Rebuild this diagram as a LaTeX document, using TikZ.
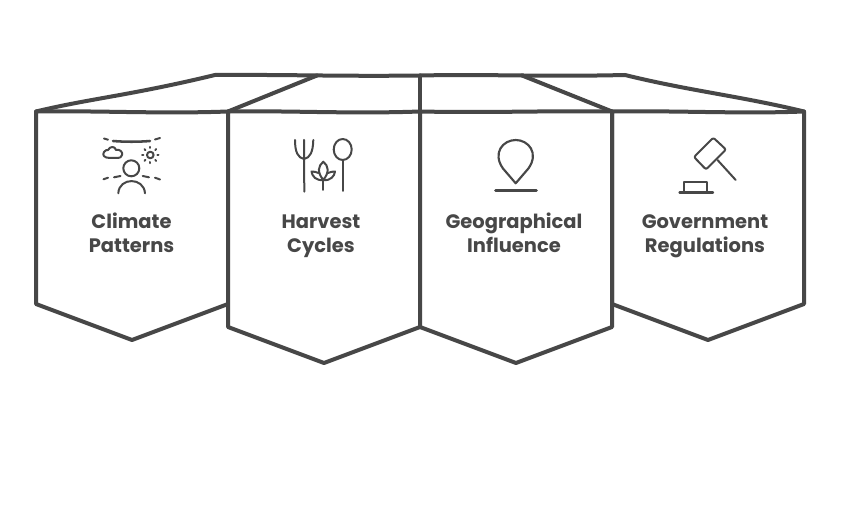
\documentclass[tikz,border=0pt]{standalone}
\usepackage{fontspec}
\setmainfont{Poppins}
\definecolor{ink}{HTML}{474747}
\tikzset{
  panel/.style={draw=ink,line width=3pt,line join=round,line cap=round,fill=white},
  roof/.style={draw=ink,line width=3pt,line join=round,line cap=round},
  icon/.style={draw=ink,line width=1.5pt,line cap=round,line join=round},
  label/.style={text=ink,font=\fontsize{14.6}{18}\selectfont\bfseries,align=center,inner sep=0pt}
}
\newcommand{\lab}[2]{\strut #1\\\strut #2}
\begin{document}
\begin{tikzpicture}[x=0.75pt,y=-0.75pt]
\useasboundingbox (0,0) rectangle (844,509);
\fill[white] (0,0) rectangle (844,509);
% roof
\draw[roof] (36,111.5) .. controls (90,98.5) and (130,95.5) .. (215,75) .. controls (290,74.5) and (340,76.5) .. (420,75.5) .. controls (490,74) and (540,77) .. (625,75) .. controls (690,91) and (740,96) .. (804,111.5);
\draw[roof] (228,111.5) -- (317,75.5);
\draw[roof] (612,111.5) -- (522,75.5);
\draw[roof] (420,75.5) -- (420,111.5);
% panels
\draw[panel] (36,111.5) .. controls (100,110.5) and (160,114) .. (228,111.5) -- (228,304) -- (132,340) -- (36,304) -- cycle;
\draw[panel] (612,111.5) .. controls (680,110.5) and (740,114) .. (804,111.5) -- (804,304) -- (708,340) -- (612,304) -- cycle;
\draw[panel] (228,111.5) .. controls (290,110.5) and (350,114) .. (420,111.5) -- (420,327) -- (324,363) -- (228,327) -- cycle;
\draw[panel] (420,111.5) .. controls (490,113) and (550,110.5) .. (612,111.5) -- (612,327) -- (516,363) -- (420,327) -- cycle;
% labels
\node[label] (t1) at (131.5,236) {\lab{Climate}{Patterns}};
\node[label] (t2) at (321,236) {\lab{Harvest}{Cycles}};
\node[label] (t3) at (514,236) {\lab{Geographical}{Influence}};
\node[label] (t4) at (705,236) {\lab{Government}{Regulations}};
% climate icon
\draw[icon,line width=1.9pt] (113,141) .. controls (125,142) and (138,142) .. (150,141);
\draw[icon] (104,138.5) -- (108,139.7);
\draw[icon] (155,139.5) -- (160,138);
\draw[icon] (110,158) .. controls (104,158) and (102,155) .. (104,152) .. controls (105,150) and (107,150) .. (108,150) .. controls (110,146) and (115,146) .. (116,150) .. controls (120,149) and (123,152) .. (122,155) .. controls (121.5,157) and (120,158) .. (118,158) -- cycle;
\draw[icon] (150.3,155) circle (3.3);
\foreach \a in {0,45,...,315}{\draw[icon] ({150.3+7*cos(\a)},{155+7*sin(\a)}) -- ({150.3+8.2*cos(\a)},{155+8.2*sin(\a)});}
\draw[icon] (131.3,168.3) circle (8);
\draw[icon] (118.3,193.3) .. controls (119,177) and (144,177) .. (145,193.3);
\draw[icon] (103.5,179.3) -- (108,177.7);
\draw[icon] (114,177.3) -- (120.5,176);
\draw[icon] (142.7,176) -- (149,177.3);
\draw[icon] (155,177.7) -- (160,179.5);
% harvest icon
\draw[icon] (295,140) .. controls (295,152) and (298,158) .. (304,159) .. controls (310,158) and (313,152) .. (313.3,140);
\draw[icon] (304,140) -- (304.3,191.7);
\draw[icon] (342.7,149.5) ellipse (9 and 10.5);
\draw[icon] (342.7,160) -- (342.7,191);
\draw[icon] (323.3,161.7) .. controls (318,166) and (317,172) .. (323.3,180) .. controls (329.6,172) and (328.6,166) .. (323.3,161.7) -- cycle;
\draw[icon] (323.3,180) .. controls (316,181) and (312,176) .. (311.5,171.5) .. controls (314,171.5) and (316.5,172) .. (318.5,173);
\draw[icon] (323.3,180) .. controls (330.6,181) and (334.6,176) .. (335,171.5) .. controls (332.5,171.5) and (330,172) .. (328,173);
\draw[icon] (323.3,180) -- (323.3,190);
% pin icon
\draw[icon,line width=1.6pt] (515.7,183.3) -- (503,168.5) .. controls (492,153) and (503,140) .. (515.7,140) .. controls (528.4,140) and (539.4,153) .. (528.4,168.5) -- cycle;
\draw[icon,line width=1.9pt] (495.5,190.3) -- (536.5,190.3);
% gavel icon
\draw[icon,rounded corners=1.5pt] (713.3,137.7) -- (726,149.5) -- (706,169.5) -- (694,157) -- cycle;
\draw[icon] (717.5,160) -- (735.7,180);
\draw[icon] (684,191) -- (684,182) -- (707.3,182) -- (707.3,191);
\draw[icon,line width=1.8pt] (679.5,192.7) -- (713,192.7);
\end{tikzpicture}
\end{document}
